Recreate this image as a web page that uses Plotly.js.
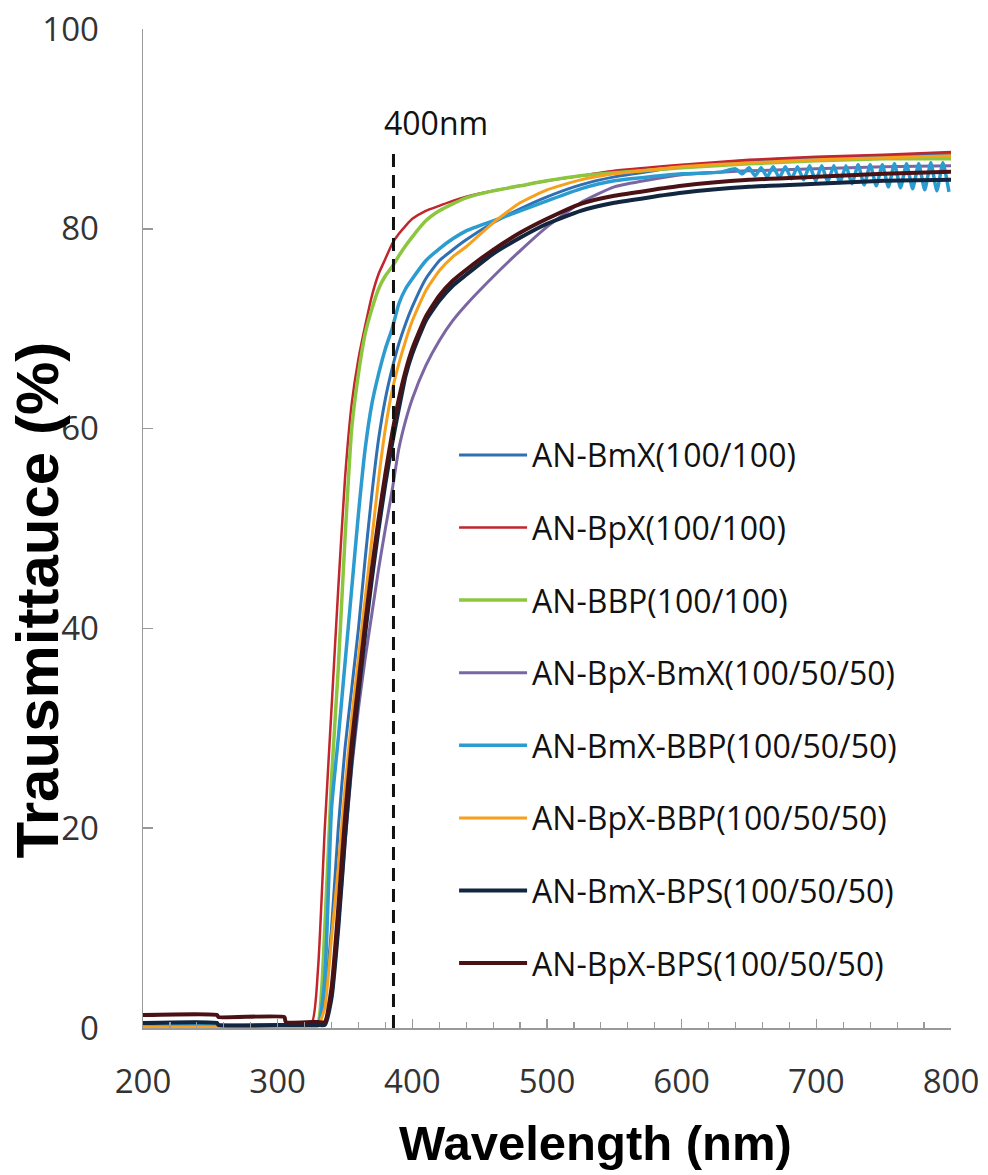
<!DOCTYPE html>
<html>
<head>
<meta charset="utf-8">
<script src="https://cdn.plot.ly/plotly-3.0.1.min.js"></script>
<style>html,body{margin:0;padding:0;background:#fff;}#chart{width:988px;height:1175px;}</style>
</head>
<body>
<div id="chart"></div>
<script>
// Wavelength grid (nm)
const wavelength = [200,255,256,305,306,325,330,335,340,345,350,355,360,365,370,375,380,385,390,395,400,410,420,430,440,460,480,500,525,550,600,650,700,750,800];

// Transmittance (%) per sample
const bmX      = [0.5,0.5,0.3,0.3,0.3,0.3,0.5,3,10,20,28,34,40,47,53.5,59,63,66,68.5,70.5,72.2,75,76.8,77.9,78.9,80.6,82,83.2,84.4,85.2,86.2,86.8,87.1,87.3,87.5];
const bpX      = [0.3,0.3,0.3,0.3,0.3,0.4,6,20,32,44,55,62.5,67,70.3,73.3,75.5,77,78.5,79.5,80.3,81,81.8,82.3,82.8,83.2,83.8,84.3,84.8,85.3,85.8,86.4,86.9,87.2,87.4,87.7];
const bbp      = [0.1,0.1,0.1,0.1,0.1,0.1,0.5,10,25,36,49,60,65.5,69.5,72,74,75.3,76.2,77.3,78.3,79.2,80.8,81.8,82.5,83.1,83.8,84.3,84.8,85.3,85.6,86.1,86.5,86.8,87.0,87.0];
const bpxBmx   = [0.4,0.4,0.3,0.3,0.3,0.3,0.3,0.5,3,10,18.5,26,32,37,41.5,46,50,53.8,58,60.8,63,66.3,68.8,70.8,72.4,75.2,77.8,80.2,82.6,84.2,85.4,85.8,86.0,86.2,86.3];
const bpxBbp   = [0.1,0.1,0.1,0.1,0.1,0.1,0.2,2,9,16,24,31,37,43,49,55,60,63.8,66.5,68.8,70.8,73.8,75.8,77.2,78.2,80.6,82.6,83.9,84.9,85.5,86.2,86.6,86.9,87.1,87.3];
const bmxBps   = [0.5,0.5,0.3,0.3,0.3,0.3,0.3,0.3,3,10,19,27,33.5,39.5,45,50,54.5,58.5,62,65.3,67.5,70.8,72.8,74.3,75.4,77.5,79.1,80.5,81.8,82.6,83.6,84.2,84.5,84.8,84.9];
const bpxBps   = [1.3,1.3,1.1,1.1,0.6,0.6,0.6,0.6,4,12,21,28.5,34.5,40.5,46,51,55.5,59.5,63,65.8,68,71.2,73.3,74.8,75.9,77.9,79.6,81,82.5,83.3,84.3,84.9,85.2,85.5,85.7];

// AN-BmX-BBP has interference fringes at long wavelengths: own grid
const bmxBbpWl = [200,255,256,305,306,325,330,335,340,345,350,355,360,365,370,375,380,385,390,395,400,410,420,430,440,460,480,500,525,550,600,620,630,640,645,650,654.5,659,663.5,668,672.5,677,681.5,686,690.5,695,699.5,704,708.5,713,717.5,722,726.5,731,735.5,740,744.5,749,753.5,758,762.5,767,771.5,776,780.5,785,789.5,794,798.5];
const bmxBbp   = [0.3,0.3,0.3,0.3,0.3,0.3,0.3,5,22,29,36.5,44,51.5,58,62.5,65.5,68,70,72.5,74,75,76.8,78,79,79.8,80.8,81.8,82.8,84,84.8,85.5,85.6,85.7,86.0,85.5,86.1,85.3,86.1,85.2,86.2,85.1,86.2,85.0,86.2,84.9,86.3,84.8,86.3,84.7,86.3,84.6,86.3,84.5,86.4,84.4,86.4,84.3,86.4,84.2,86.5,84.1,86.5,84.0,86.5,83.9,86.6,83.8,86.6,83.7];

const names  = ['AN-BmX(100/100)','AN-BpX(100/100)','AN-BBP(100/100)','AN-BpX-BmX(100/50/50)','AN-BmX-BBP(100/50/50)','AN-BpX-BBP(100/50/50)','AN-BmX-BPS(100/50/50)','AN-BpX-BPS(100/50/50)'];
const series = [bmX, bpX, bbp, bpxBmx, bmxBbp, bpxBbp, bmxBps, bpxBps];
const xs     = [wavelength, wavelength, wavelength, wavelength, bmxBbpWl, wavelength, wavelength, wavelength];
const colors = ['#2f70b4','#c0262c','#8cc63f','#7a66a3','#2b9bd0','#f6a01e','#12273f','#4a1214'];
const widths = [3,2.5,3.5,3,3.5,3,4,4];

const xTickVals = [200,300,400,500,600,700,800];
const yTickVals = [0,20,40,60,80,100];
const markerWl = 386;      // dashed reference line position (as drawn)
const markerTop = 87.7;

const traces = series.map((y,i)=>({
  x: xs[i], y: y, name: names[i], type:'scatter', mode:'lines',
  line:{color:colors[i], width:widths[i], shape:'spline', smoothing:0.5},
  legendgroup:'g'+i
}));

const layout = {
  width:988, height:1175,
  margin:{l:143, r:37, t:29, b:147},
  paper_bgcolor:'#fff', plot_bgcolor:'#fff',
  font:{family:'Open Sans, sans-serif', color:'#333'},
  showlegend:true,
  legend:{x:0.385, y:0.601, xanchor:'left', yanchor:'top', bgcolor:'rgba(0,0,0,0)',
          font:{size:32, color:'#111', family:'Open Sans, sans-serif'},
          itemwidth:68, tracegroupgap:28, traceorder:'grouped'},
  xaxis:{range:[200,800], tickvals:xTickVals, ticktext:xTickVals.map(String),
         showgrid:false, zeroline:false, showline:true, linecolor:'#999', linewidth:1.5,
         ticks:'inside', ticklen:9, tickcolor:'#999', tickwidth:1.5,
         minor:{dtick:20, tick0:200, ticks:'inside', ticklen:6, tickcolor:'#999', tickwidth:1.2, showgrid:false},
         tickfont:{size:33, color:'#333'}, ticklabelstandoff:24},
  yaxis:{range:[0,100], tickvals:yTickVals, ticktext:yTickVals.map(String),
         showgrid:false, zeroline:false, showline:true, linecolor:'#999', linewidth:1.5,
         ticks:'inside', ticklen:10, tickcolor:'#999', tickwidth:1.5,
         tickfont:{size:33, color:'#333'}, ticklabelstandoff:36},
  shapes:[{type:'line', xref:'x', yref:'y', x0:markerWl, x1:markerWl, y0:0, y1:markerTop,
           line:{color:'#111', width:3, dash:'13px,8px'}}],
  annotations:[
    {text:'400nm', xref:'x', yref:'y', x:417.4, y:90.6, showarrow:false,
     font:{size:32, color:'#111', family:'Open Sans, sans-serif'}},
    {text:'<b>Wavelength (nm)</b>', xref:'paper', yref:'paper', x:0.5606, y:-0.115, showarrow:false,
     xanchor:'center', yanchor:'middle', font:{size:49, color:'#000', family:'Liberation Sans, Arial, sans-serif'}},
    {text:'<b>Trausmittauce (%)</b>', xref:'paper', yref:'paper', x:-0.131, y:0.428, showarrow:false,
     textangle:-90, xanchor:'center', yanchor:'middle', font:{size:60, color:'#000', family:'Liberation Sans, Arial, sans-serif'}}
  ]
};

Plotly.newPlot('chart', traces, layout, {displayModeBar:false, staticPlot:true});
</script>
</body>
</html>
